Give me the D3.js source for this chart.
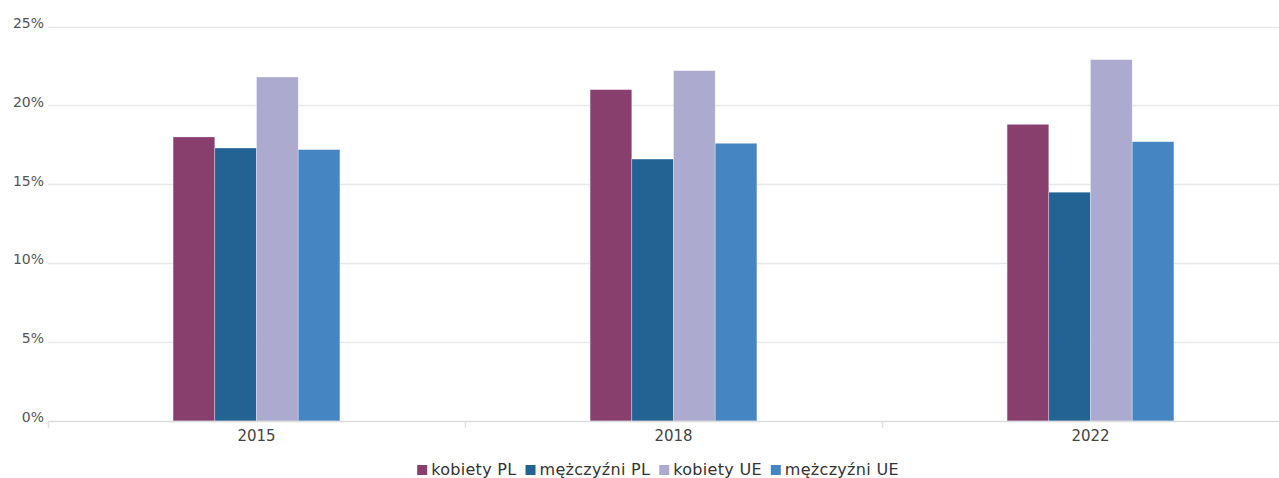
<!DOCTYPE html>
<html lang="pl">
<head>
<meta charset="utf-8">
<script src="https://cdn.jsdelivr.net/npm/d3@7"></script>
<style>
  html, body { margin: 0; padding: 0; background: #fff; }
  svg { display: block; font-family: "DejaVu Sans", "Open Sans", sans-serif; }
</style>
</head>
<body>
<svg id="chart" width="1279" height="478"></svg>
<script>
// Years on the category axis
const years = ["2015", "2018", "2022"];
// Series names (legend order)
const seriesNames = ["kobiety PL", "mężczyźni PL", "kobiety UE", "mężczyźni UE"];
// Values in percent, one array per series, aligned with years
const kobietyPL = [18.0, 21.0, 18.8];
const mezczyzniPL = [17.3, 16.6, 14.5];
const kobietyUE = [21.8, 22.2, 22.9];
const mezczyzniUE = [17.2, 17.6, 17.7];
// Y-axis ticks
const yTicks = [0, 5, 10, 15, 20, 25];

const seriesValues = [kobietyPL, mezczyzniPL, kobietyUE, mezczyzniUE];
const colors = ["#893f6e", "#236394", "#adaad0", "#4586c2"];

const svg = d3.select("#chart");
const W = 1279;
const m = { left: 48, top: 26.5, bottom: 57 };
const plotRight = 1299;
const y0 = 478 - m.bottom;

const x = d3.scaleBand().domain(years).range([m.left, plotRight]).padding(0);
const xInner = d3.scaleBand().domain(seriesNames)
  .range([0, x.bandwidth() * 0.4]);
const y = d3.scaleLinear().domain([0, 25]).range([y0, m.top]);

// gridlines
svg.append("g")
  .selectAll("line")
  .data(yTicks.filter(d => d > 0))
  .join("line")
  .attr("x1", m.left).attr("x2", W)
  .attr("y1", d => Math.round(y(d)) + 0.5).attr("y2", d => Math.round(y(d)) + 0.5)
  .attr("stroke", "#e8e8e8").attr("stroke-width", 1.5);

// y axis labels
const yAxis = d3.axisLeft(y).tickValues(yTicks).tickFormat(d => d + "%").tickSize(0).tickPadding(4);
svg.append("g")
  .attr("transform", `translate(${m.left},0)`)
  .call(yAxis)
  .call(g => g.select(".domain").remove())
  .call(g => g.selectAll("text")
    .attr("fill", "#555").attr("font-size", 14).attr("font-family", "DejaVu Sans")
    .attr("dy", "0.05em"));

// bars
const groups = svg.append("g")
  .selectAll("g")
  .data(years)
  .join("g")
  .attr("transform", d => `translate(${x(d) + x.bandwidth() * 0.3},0)`);

groups.selectAll("rect")
  .data((yr, i) => seriesNames.map((s, j) => ({ s, j, v: seriesValues[j][i] })))
  .join("rect")
  .attr("x", d => xInner(d.s))
  .attr("width", xInner.bandwidth())
  .attr("y", d => y(d.v))
  .attr("height", d => y0 - y(d.v))
  .attr("fill", d => colors[d.j])
  .attr("stroke", "#fff").attr("stroke-opacity", 0.5).attr("stroke-width", 0.6);

// x axis
const xAxis = d3.axisBottom(x).tickSize(0).tickPadding(9);
const gx = svg.append("g")
  .attr("transform", `translate(0,${y0})`)
  .call(xAxis)
  .call(g => g.select(".domain").remove())
  .call(g => g.selectAll("text").attr("fill", "#444").attr("font-size", 15)
    .attr("font-family", "DejaVu Sans"));

gx.append("line")
  .attr("x1", m.left).attr("x2", W)
  .attr("y1", 0.5).attr("y2", 0.5)
  .attr("stroke", "#dcdcdc").attr("stroke-width", 1.5);

gx.selectAll(".sep")
  .data(years)
  .join("line")
  .attr("class", "sep")
  .attr("x1", d => Math.round(x(d)) + 0.5).attr("x2", d => Math.round(x(d)) + 0.5)
  .attr("y1", 0).attr("y2", 7)
  .attr("stroke", "#e0e0e0").attr("stroke-width", 1.5);

// legend
const legend = svg.append("g").attr("font-size", 16).attr("fill", "#333")
  .attr("font-family", "DejaVu Sans");
const items = legend.selectAll("g")
  .data(seriesNames)
  .join("g");
items.append("rect")
  .attr("width", 10).attr("height", 10)
  .attr("y", -10)
  .attr("fill", (d, i) => colors[i]);
items.append("text")
  .attr("x", 14)
  .attr("y", 0)
  .attr("letter-spacing", 0.3)
  .text(d => d);

const widths = [];
items.each(function () {
  widths.push(this.getBBox().width);
});
const gap = 9;
const total = d3.sum(widths) + gap * (widths.length - 1);
let cx = 664 - total / 2 - 6;
items.attr("transform", (d, i) => {
  const t = `translate(${cx},${475})`;
  cx += widths[i] + gap;
  return t;
});
</script>
</body>
</html>
